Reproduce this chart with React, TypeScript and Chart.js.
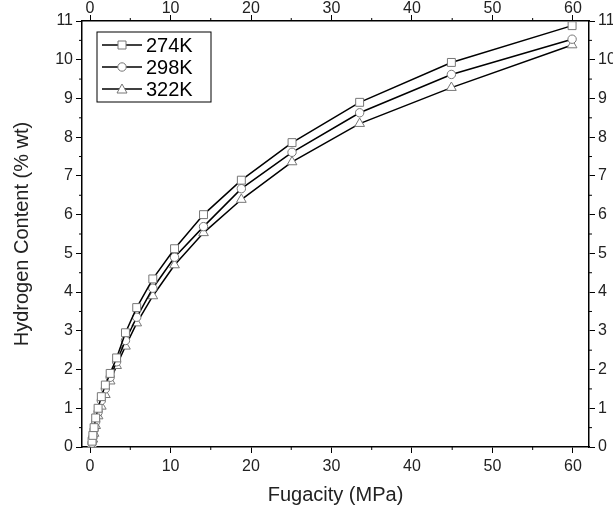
import React, { useEffect, useRef } from 'react';
import { Chart, registerables } from 'chart.js';
Chart.register(...registerables);

const fugacity = [0.25, 0.35, 0.5, 0.7, 1.0, 1.4, 1.9, 2.5, 3.3, 4.4, 5.8, 7.8, 10.5, 14.1, 18.8, 25.1, 33.5, 44.9, 59.9];
const h274 = [0.15, 0.3, 0.5, 0.75, 1.0, 1.3, 1.6, 1.9, 2.3, 2.95, 3.6, 4.34, 5.12, 6.0, 6.89, 7.86, 8.9, 9.93, 10.88];
const h298 = [0.1, 0.25, 0.45, 0.65, 0.9, 1.2, 1.5, 1.8, 2.2, 2.75, 3.35, 4.1, 4.9, 5.69, 6.67, 7.61, 8.63, 9.62, 10.53];
const h322 = [0.05, 0.2, 0.35, 0.55, 0.8, 1.05, 1.35, 1.7, 2.1, 2.6, 3.2, 3.9, 4.7, 5.53, 6.39, 7.36, 8.35, 9.28, 10.38];
const seriesLabels = ['274K', '298K', '322K'];
const seriesStyles = ['rect', 'circle', 'triangle'];
const xMajor = [0, 10, 20, 30, 40, 50, 60];
const xMinor = [5, 15, 25, 35, 45, 55];
const yMajor = [0, 1, 2, 3, 4, 5, 6, 7, 8, 9, 10, 11];
const yMinor = [0.5, 1.5, 2.5, 3.5, 4.5, 5.5, 6.5, 7.5, 8.5, 9.5, 10.5];

const FONT = '"Liberation Sans", Arial, sans-serif';
const MARKER = '#777';

const minorTicks = {
  id: 'minorTicks',
  afterDraw(chart: any) {
    const ctx = chart.ctx;
    const { left, right, top, bottom } = chart.chartArea;
    const len = 3;
    ctx.save();
    ctx.strokeStyle = '#000';
    ctx.lineWidth = 1;
    ctx.beginPath();
    for (const v of xMinor) {
      const px = chart.scales.x.getPixelForValue(v);
      ctx.moveTo(px, bottom); ctx.lineTo(px, bottom + len);
      ctx.moveTo(px, top); ctx.lineTo(px, top - len);
    }
    for (const v of yMinor) {
      const py = chart.scales.y.getPixelForValue(v);
      ctx.moveTo(left, py); ctx.lineTo(left - len, py);
      ctx.moveTo(right, py); ctx.lineTo(right + len, py);
    }
    ctx.stroke();
    ctx.restore();
  },
};

function drawMarker(ctx: CanvasRenderingContext2D, style: string, x: number, y: number) {
  ctx.beginPath();
  if (style === 'rect') {
    ctx.rect(x - 4, y - 4, 8, 8);
  } else if (style === 'circle') {
    ctx.arc(x, y, 4.2, 0, Math.PI * 2);
  } else {
    ctx.moveTo(x, y - 5);
    ctx.lineTo(x + 5, y + 4);
    ctx.lineTo(x - 5, y + 4);
    ctx.closePath();
  }
  ctx.fillStyle = '#fff';
  ctx.fill();
  ctx.strokeStyle = MARKER;
  ctx.lineWidth = 1;
  ctx.stroke();
}

const customLegend = {
  id: 'customLegend',
  afterDraw(chart: any) {
    const ctx = chart.ctx;
    const { left, top } = chart.chartArea;
    const bx = left + 15, by = top + 11, bw = 114, bh = 70;
    ctx.save();
    ctx.fillStyle = '#fff';
    ctx.fillRect(bx, by, bw, bh);
    ctx.strokeStyle = '#000';
    ctx.lineWidth = 1;
    ctx.strokeRect(bx, by, bw, bh);
    chart.data.datasets.forEach((ds: any, i: number) => {
      const ry = by + 13 + i * 22;
      ctx.beginPath();
      ctx.strokeStyle = '#000';
      ctx.lineWidth = 1.5;
      ctx.moveTo(bx + 5, ry); ctx.lineTo(bx + 45, ry);
      ctx.stroke();
      drawMarker(ctx, seriesStyles[i], bx + 25, ry);
      ctx.fillStyle = '#000';
      ctx.font = `20px ${FONT}`;
      ctx.textBaseline = 'middle';
      ctx.textAlign = 'left';
      ctx.fillText(ds.label, bx + 49, ry + 1);
    });
    ctx.restore();
  },
};

function axisCommon(min: number, max: number, major: number[], position: string, showTitle: boolean, title: string, fit: (s: any) => void, padTicks: number, titlePad: any) {
  return {
    type: 'linear',
    position,
    min,
    max,
    afterBuildTicks: (s: any) => { s.ticks = major.map((v) => ({ value: v })); },
    afterFit: fit,
    grid: { display: true, drawOnChartArea: false, drawTicks: true, tickLength: 6, color: '#000', tickColor: '#000', tickWidth: 1 },
    border: { display: true, color: '#000', width: 1.5 },
    ticks: { color: '#222', font: { family: FONT, size: 16 }, padding: padTicks, maxRotation: 0, autoSkip: false },
    title: showTitle ? { display: true, text: title, color: '#222', font: { family: FONT, size: 20 }, padding: titlePad } : { display: false },
  };
}

export default function App() {
  const ref = useRef<HTMLCanvasElement>(null);
  useEffect(() => {
    const data = [h274, h298, h322];
    const chart = new Chart(ref.current!, {
      type: 'scatter',
      data: {
        datasets: seriesLabels.map((label, i) => ({
          label,
          data: fugacity.map((f, j) => ({ x: f, y: data[i][j] })),
          showLine: true,
          borderColor: '#000',
          borderWidth: 1.5,
          pointStyle: seriesStyles[i] as any,
          pointRadius: seriesStyles[i] === 'circle' ? 4.2 : 5.6,
          pointBackgroundColor: '#fff',
          pointBorderColor: MARKER,
          pointBorderWidth: 1,
          tension: 0,
        })),
      },
      options: {
        animation: false,
        responsive: false,
        layout: { padding: 0 },
        plugins: { legend: { display: false }, tooltip: { enabled: false } },
        scales: {
          x: axisCommon(-1, 62, xMajor, 'bottom', true, 'Fugacity (MPa)', (s: any) => { s.height = 67; }, 4, { top: 4, bottom: 7 }) as any,
          x2: axisCommon(-1, 62, xMajor, 'top', false, '', (s: any) => { s.height = 21; }, -3, 0) as any,
          y: axisCommon(0, 11, yMajor, 'left', true, 'Hydrogen Content (% wt)', (s: any) => { s.width = 82; }, 3, { top: 10, bottom: 4 }) as any,
          y2: axisCommon(0, 11, yMajor, 'right', false, '', (s: any) => { s.width = 24; }, 3, 0) as any,
        },
      },
      plugins: [minorTicks, customLegend],
    });
    return () => chart.destroy();
  }, []);
  return (
    <div style={{ position: 'absolute', left: 0, top: 0, width: 613, height: 514, background: '#fff' }}>
      <canvas ref={ref} width={613} height={514} />
    </div>
  );
}
